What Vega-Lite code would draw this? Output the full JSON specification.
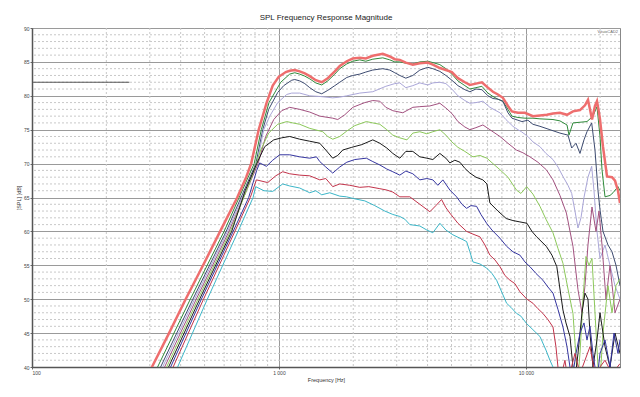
{
  "$schema": "https://vega.github.io/schema/vega-lite/v6.json",
  "width": 588,
  "height": 339,
  "autosize": {"type": "none"},
  "padding": {"left": 32, "top": 28, "right": 20, "bottom": 30},
  "background": "white",
  "title": {"text": "SPL Frequency Response Magnitude", "fontSize": 8, "font": "Liberation Sans", "fontWeight": "normal", "color": "#222", "offset": 4},
  "config": {
    "view": {"stroke": "#888", "strokeWidth": 1},
    "axis": {"labelFontSize": 5, "labelColor": "#444", "labelFont": "Liberation Sans", "titleFont": "Liberation Sans", "titleFontSize": 5.5, "titleFontWeight": "normal", "titleColor": "#333", "domainColor": "#555", "domainWidth": 1.5, "tickColor": "#666", "tickSize": 2, "labelPadding": 1},
    "axisX": {"titlePadding": 2},
    "axisY": {"titlePadding": 2}
  },
  "layer": [
    {
      "data": {"values": [{"d":41},{"d":42},{"d":43},{"d":44},{"d":46},{"d":47},{"d":48},{"d":49},{"d":51},{"d":52},{"d":53},{"d":54},{"d":56},{"d":57},{"d":58},{"d":59},{"d":61},{"d":62},{"d":63},{"d":64},{"d":66},{"d":67},{"d":68},{"d":69},{"d":71},{"d":72},{"d":73},{"d":74},{"d":76},{"d":77},{"d":78},{"d":79},{"d":81},{"d":82},{"d":83},{"d":84},{"d":86},{"d":87},{"d":88},{"d":89}]},
      "mark": {"type": "rule", "color": "#c8c8c8", "strokeDash": [2, 2], "strokeWidth": 1},
      "encoding": {
        "y": {"field": "d", "type": "quantitative", "scale": {"domain": [40, 90], "nice": false, "zero": false}, "axis": {"values": [40,45,50,55,60,65,70,75,80,85,90], "title": "[SPL] [dB]", "grid": true, "gridColor": "#9a9a9a"}}
      }
    },
    {
      "data": {"values": [{"f":200},{"f":300},{"f":400},{"f":500},{"f":600},{"f":700},{"f":800},{"f":900},{"f":2000},{"f":3000},{"f":4000},{"f":5000},{"f":6000},{"f":7000},{"f":8000},{"f":9000},{"f":20000}]},
      "mark": {"type": "rule", "color": "#c8c8c8", "strokeDash": [2, 2], "strokeWidth": 1},
      "encoding": {
        "x": {"field": "f", "type": "quantitative", "scale": {"type": "log", "domain": [100, 24066], "nice": false}, "axis": {"values": [100, 1000, 10000], "title": "Frequency [Hz]", "labelExpr": "replace(format(datum.value, ',.0f'), ',', ' ')", "grid": true, "gridColor": "#9a9a9a"}}
      }
    },
    {
      "data": {"values": [{"f1": 100, "f2": 248, "d": 82}]},
      "mark": {"type": "rule", "color": "#555", "strokeWidth": 1},
      "encoding": {
        "x": {"field": "f1", "type": "quantitative", "scale": {"type": "log", "domain": [100, 24066], "nice": false}, "axis": {"values": [100, 1000, 10000], "title": "Frequency [Hz]", "labelExpr": "replace(format(datum.value, ',.0f'), ',', ' ')", "grid": true, "gridColor": "#9a9a9a"}},
        "x2": {"field": "f2"},
        "y": {"field": "d", "type": "quantitative", "scale": {"domain": [40, 90], "nice": false, "zero": false}, "axis": {"values": [40,45,50,55,60,65,70,75,80,85,90], "title": "[SPL] [dB]", "grid": true, "gridColor": "#9a9a9a"}}
      }
    },
    {
      "data": {"values": [{"f": 24066, "d": 89.4, "t": "VituixCAD2"}]},
      "mark": {"type": "text", "align": "right", "baseline": "middle", "fontSize": 4, "color": "#666", "dx": -2, "font": "Liberation Sans"},
      "encoding": {
        "x": {"field": "f", "type": "quantitative", "scale": {"type": "log", "domain": [100, 24066], "nice": false}, "axis": {"values": [100, 1000, 10000], "title": "Frequency [Hz]", "labelExpr": "replace(format(datum.value, ',.0f'), ',', ' ')", "grid": true, "gridColor": "#9a9a9a"}},
        "y": {"field": "d", "type": "quantitative", "scale": {"domain": [40, 90], "nice": false, "zero": false}, "axis": {"values": [40,45,50,55,60,65,70,75,80,85,90], "title": "[SPL] [dB]", "grid": true, "gridColor": "#9a9a9a"}},
        "text": {"field": "t"}
      }
    },
    {
      "data": {"values": [
{"s":"c2","f":290,"d":36.6},{"s":"c2","f":322.6,"d":40},{"s":"c2","f":437.7,"d":50},{"s":"c2","f":599.7,"d":60},{"s":"c2","f":794.1,"d":70},{"s":"c2","f":848.5,"d":75},{"s":"c2","f":911.7,"d":79},{"s":"c2","f":1017,"d":82},{"s":"c2","f":1106,"d":83.2},{"s":"c2","f":1159,"d":83.4},{"s":"c2","f":1214,"d":83.2},{"s":"c2","f":1273,"d":82.9},{"s":"c2","f":1333,"d":82.5},{"s":"c2","f":1410,"d":81.9},{"s":"c2","f":1491,"d":81.6},{"s":"c2","f":1577,"d":82.2},{"s":"c2","f":1684,"d":83.2},{"s":"c2","f":1764,"d":84.0},{"s":"c2","f":1883,"d":84.7},{"s":"c2","f":1991,"d":85.1},{"s":"c2","f":2126,"d":85.3},{"s":"c2","f":2248,"d":85.1},{"s":"c2","f":2400,"d":85.4},{"s":"c2","f":2634,"d":85.6},{"s":"c2","f":2812,"d":85.3},{"s":"c2","f":2947,"d":85.0},{"s":"c2","f":3088,"d":85.0},{"s":"c2","f":3266,"d":84.8},{"s":"c2","f":3486,"d":84.7},{"s":"c2","f":3722,"d":85.0},{"s":"c2","f":4010,"d":85.1},{"s":"c2","f":4202,"d":84.9},{"s":"c2","f":4486,"d":84.6},{"s":"c2","f":4745,"d":84.0},{"s":"c2","f":5016,"d":83.2},{"s":"c2","f":5308,"d":82.2},{"s":"c2","f":5664,"d":81.5},{"s":"c2","f":5935,"d":81.0},{"s":"c2","f":6279,"d":81.2},{"s":"c2","f":6639,"d":81.4},{"s":"c2","f":7023,"d":80.4},{"s":"c2","f":7358,"d":79.9},{"s":"c2","f":7709,"d":79.5},{"s":"c2","f":8075,"d":79.2},{"s":"c2","f":8463,"d":78.0},{"s":"c2","f":8784,"d":77.0},{"s":"c2","f":9290,"d":76.8},{"s":"c2","f":9915,"d":76.7},{"s":"c2","f":10686,"d":76.7},{"s":"c2","f":11408,"d":76.6},{"s":"c2","f":12881,"d":76.5},{"s":"c2","f":13748,"d":76.3},{"s":"c2","f":14679,"d":75.7},{"s":"c2","f":14955,"d":74.2},{"s":"c2","f":15523,"d":76.0},{"s":"c2","f":16571,"d":76.1},{"s":"c2","f":17690,"d":76.2},{"s":"c2","f":18707,"d":77.0},{"s":"c2","f":19419,"d":78.4},{"s":"c2","f":19972,"d":74.0},{"s":"c2","f":20350,"d":69.1},{"s":"c2","f":20927,"d":65.1},{"s":"c2","f":21924,"d":65.3},{"s":"c2","f":22547,"d":65.7},{"s":"c2","f":23619,"d":66.6},{"s":"c2","f":24066,"d":66.0},
{"s":"c3","f":290,"d":35.7},{"s":"c3","f":331.8,"d":40},{"s":"c3","f":448.2,"d":50},{"s":"c3","f":611.5,"d":60},{"s":"c3","f":806.7,"d":70},{"s":"c3","f":860,"d":75},{"s":"c3","f":909,"d":78},{"s":"c3","f":989,"d":80.5},{"s":"c3","f":1046,"d":81.5},{"s":"c3","f":1127,"d":82.3},{"s":"c3","f":1159,"d":82.4},{"s":"c3","f":1214,"d":82.2},{"s":"c3","f":1273,"d":81.8},{"s":"c3","f":1333,"d":81.2},{"s":"c3","f":1410,"d":80.6},{"s":"c3","f":1491,"d":80.3},{"s":"c3","f":1577,"d":80.8},{"s":"c3","f":1684,"d":81.5},{"s":"c3","f":1764,"d":82.0},{"s":"c3","f":1883,"d":82.7},{"s":"c3","f":1991,"d":83.0},{"s":"c3","f":2126,"d":83.2},{"s":"c3","f":2248,"d":83.5},{"s":"c3","f":2400,"d":83.8},{"s":"c3","f":2634,"d":84.0},{"s":"c3","f":2812,"d":83.8},{"s":"c3","f":2947,"d":83.4},{"s":"c3","f":3088,"d":83.0},{"s":"c3","f":3266,"d":82.6},{"s":"c3","f":3486,"d":83.0},{"s":"c3","f":3722,"d":83.8},{"s":"c3","f":4010,"d":84.2},{"s":"c3","f":4202,"d":84.0},{"s":"c3","f":4486,"d":83.6},{"s":"c3","f":4745,"d":83.0},{"s":"c3","f":5016,"d":82.3},{"s":"c3","f":5308,"d":81.5},{"s":"c3","f":5664,"d":80.9},{"s":"c3","f":5935,"d":80.6},{"s":"c3","f":6279,"d":81.0},{"s":"c3","f":6639,"d":80.9},{"s":"c3","f":7023,"d":80.0},{"s":"c3","f":7358,"d":79.6},{"s":"c3","f":7709,"d":79.5},{"s":"c3","f":8075,"d":79.2},{"s":"c3","f":8463,"d":77.5},{"s":"c3","f":8784,"d":76.7},{"s":"c3","f":9290,"d":76.4},{"s":"c3","f":9643,"d":76.2},{"s":"c3","f":10197,"d":76.4},{"s":"c3","f":10686,"d":75.8},{"s":"c3","f":11408,"d":75.5},{"s":"c3","f":12519,"d":75.0},{"s":"c3","f":13748,"d":74.5},{"s":"c3","f":14817,"d":74.2},{"s":"c3","f":15336,"d":72.3},{"s":"c3","f":15965,"d":73.0},{"s":"c3","f":16571,"d":71.5},{"s":"c3","f":17200,"d":73.5},{"s":"c3","f":17690,"d":74.7},{"s":"c3","f":18480,"d":76.0},{"s":"c3","f":19059,"d":72.0},{"s":"c3","f":19603,"d":66.0},{"s":"c3","f":19972,"d":63.2},{"s":"c3","f":20537,"d":60.0},{"s":"c3","f":21518,"d":58.0},{"s":"c3","f":22338,"d":57.0},{"s":"c3","f":23182,"d":55.0},{"s":"c3","f":24066,"d":52.0},
{"s":"c4","f":290,"d":35.1},{"s":"c4","f":338.1,"d":40},{"s":"c4","f":455.3,"d":50},{"s":"c4","f":619.5,"d":60},{"s":"c4","f":814.9,"d":70},{"s":"c4","f":868,"d":75},{"s":"c4","f":918,"d":77},{"s":"c4","f":989,"d":79},{"s":"c4","f":1076,"d":80.2},{"s":"c4","f":1127,"d":80.4},{"s":"c4","f":1214,"d":80.4},{"s":"c4","f":1333,"d":80.0},{"s":"c4","f":1464,"d":79.9},{"s":"c4","f":1652,"d":79.7},{"s":"c4","f":1764,"d":79.8},{"s":"c4","f":1883,"d":80.0},{"s":"c4","f":2126,"d":80.4},{"s":"c4","f":2400,"d":80.6},{"s":"c4","f":2710,"d":81.4},{"s":"c4","f":2947,"d":81.8},{"s":"c4","f":3088,"d":81.9},{"s":"c4","f":3266,"d":81.2},{"s":"c4","f":3486,"d":81.5},{"s":"c4","f":3722,"d":81.9},{"s":"c4","f":4010,"d":81.6},{"s":"c4","f":4202,"d":81.9},{"s":"c4","f":4486,"d":82.0},{"s":"c4","f":4745,"d":81.8},{"s":"c4","f":5016,"d":81.0},{"s":"c4","f":5308,"d":80.0},{"s":"c4","f":5664,"d":79.3},{"s":"c4","f":5935,"d":78.9},{"s":"c4","f":6279,"d":79.0},{"s":"c4","f":6700,"d":79.2},{"s":"c4","f":7153,"d":78.3},{"s":"c4","f":7854,"d":77.5},{"s":"c4","f":8304,"d":76.5},{"s":"c4","f":8866,"d":75.5},{"s":"c4","f":9290,"d":75.0},{"s":"c4","f":9600,"d":74.7},{"s":"c4","f":10197,"d":74.0},{"s":"c4","f":10686,"d":73.2},{"s":"c4","f":11408,"d":72.5},{"s":"c4","f":12064,"d":71.5},{"s":"c4","f":12881,"d":70.6},{"s":"c4","f":13494,"d":69.5},{"s":"c4","f":14139,"d":68.1},{"s":"c4","f":14817,"d":66.8},{"s":"c4","f":15336,"d":65.6},{"s":"c4","f":15815,"d":63.0},{"s":"c4","f":16264,"d":60.5},{"s":"c4","f":16727,"d":62.0},{"s":"c4","f":17200,"d":65.0},{"s":"c4","f":17852,"d":68.0},{"s":"c4","f":18480,"d":69.6},{"s":"c4","f":18884,"d":66.0},{"s":"c4","f":19419,"d":60.0},{"s":"c4","f":19972,"d":56.0},{"s":"c4","f":20927,"d":58.0},{"s":"c4","f":21924,"d":55.0},{"s":"c4","f":22972,"d":52.0},{"s":"c4","f":24066,"d":50.0},
{"s":"c5","f":290,"d":34.5},{"s":"c5","f":344.5,"d":40},{"s":"c5","f":462.6,"d":50},{"s":"c5","f":627.8,"d":60},{"s":"c5","f":823.3,"d":70},{"s":"c5","f":884,"d":74},{"s":"c5","f":953,"d":76.5},{"s":"c5","f":1026,"d":77.8},{"s":"c5","f":1106,"d":78.3},{"s":"c5","f":1214,"d":78.0},{"s":"c5","f":1333,"d":77.6},{"s":"c5","f":1464,"d":77.0},{"s":"c5","f":1652,"d":76.7},{"s":"c5","f":1731,"d":76.5},{"s":"c5","f":1848,"d":77.2},{"s":"c5","f":1991,"d":78.3},{"s":"c5","f":2228,"d":79.0},{"s":"c5","f":2400,"d":79.3},{"s":"c5","f":2563,"d":79.2},{"s":"c5","f":2710,"d":78.3},{"s":"c5","f":2893,"d":77.8},{"s":"c5","f":3176,"d":77.5},{"s":"c5","f":3486,"d":78.3},{"s":"c5","f":3722,"d":78.4},{"s":"c5","f":4086,"d":78.5},{"s":"c5","f":4486,"d":78.9},{"s":"c5","f":4745,"d":78.2},{"s":"c5","f":5016,"d":77.4},{"s":"c5","f":5308,"d":76.2},{"s":"c5","f":5664,"d":75.4},{"s":"c5","f":5935,"d":75.0},{"s":"c5","f":6279,"d":75.3},{"s":"c5","f":6700,"d":75.7},{"s":"c5","f":7153,"d":75.0},{"s":"c5","f":7854,"d":74.0},{"s":"c5","f":8463,"d":73.0},{"s":"c5","f":9160,"d":72.0},{"s":"c5","f":9732,"d":71.6},{"s":"c5","f":10389,"d":71.0},{"s":"c5","f":11196,"d":70.2},{"s":"c5","f":12100,"d":69.1},{"s":"c5","f":12881,"d":67.6},{"s":"c5","f":13748,"d":65.3},{"s":"c5","f":14600,"d":62.7},{"s":"c5","f":15523,"d":57.8},{"s":"c5","f":16264,"d":51.4},{"s":"c5","f":16882,"d":48.0},{"s":"c5","f":17363,"d":52.0},{"s":"c5","f":17852,"d":58.0},{"s":"c5","f":18535,"d":63.6},{"s":"c5","f":19240,"d":60.0},{"s":"c5","f":19784,"d":63.0},{"s":"c5","f":20350,"d":58.0},{"s":"c5","f":21120,"d":50.0},{"s":"c5","f":21924,"d":55.0},{"s":"c5","f":22972,"d":48.0},{"s":"c5","f":24066,"d":50.0},
{"s":"c6","f":290,"d":33.9},{"s":"c6","f":351,"d":40},{"s":"c6","f":470,"d":50},{"s":"c6","f":636,"d":60},{"s":"c6","f":776,"d":68},{"s":"c6","f":844,"d":72},{"s":"c6","f":909,"d":74.5},{"s":"c6","f":989,"d":75.8},{"s":"c6","f":1076,"d":76.2},{"s":"c6","f":1138,"d":76.0},{"s":"c6","f":1214,"d":75.8},{"s":"c6","f":1333,"d":75.2},{"s":"c6","f":1506,"d":74.7},{"s":"c6","f":1577,"d":74.0},{"s":"c6","f":1652,"d":73.6},{"s":"c6","f":1764,"d":74.0},{"s":"c6","f":1883,"d":74.8},{"s":"c6","f":2029,"d":75.6},{"s":"c6","f":2260,"d":76.2},{"s":"c6","f":2400,"d":76.0},{"s":"c6","f":2563,"d":75.8},{"s":"c6","f":2735,"d":75.0},{"s":"c6","f":2893,"d":74.2},{"s":"c6","f":3088,"d":73.8},{"s":"c6","f":3300,"d":73.5},{"s":"c6","f":3486,"d":74.5},{"s":"c6","f":3722,"d":74.7},{"s":"c6","f":3973,"d":74.4},{"s":"c6","f":4202,"d":74.7},{"s":"c6","f":4486,"d":75.0},{"s":"c6","f":4745,"d":74.2},{"s":"c6","f":5016,"d":73.2},{"s":"c6","f":5308,"d":72.4},{"s":"c6","f":5664,"d":71.8},{"s":"c6","f":6107,"d":71.0},{"s":"c6","f":6516,"d":71.2},{"s":"c6","f":6958,"d":70.8},{"s":"c6","f":7358,"d":70.0},{"s":"c6","f":7854,"d":69.1},{"s":"c6","f":8463,"d":68.0},{"s":"c6","f":9160,"d":66.1},{"s":"c6","f":9552,"d":65.6},{"s":"c6","f":10080,"d":66.6},{"s":"c6","f":10686,"d":65.5},{"s":"c6","f":11408,"d":63.7},{"s":"c6","f":12064,"d":61.8},{"s":"c6","f":12881,"d":59.8},{"s":"c6","f":13494,"d":57.5},{"s":"c6","f":14139,"d":55.3},{"s":"c6","f":14817,"d":51.5},{"s":"c6","f":15523,"d":47.9},{"s":"c6","f":16068,"d":40.0},{"s":"c6","f":16264,"d":38.5},{"s":"c6","f":16571,"d":42.0},{"s":"c6","f":17042,"d":50.0},{"s":"c6","f":17524,"d":56.3},{"s":"c6","f":18022,"d":55.0},{"s":"c6","f":18535,"d":56.0},{"s":"c6","f":19059,"d":48.0},{"s":"c6","f":19603,"d":40.0},{"s":"c6","f":19972,"d":38.0},{"s":"c6","f":20537,"d":45.0},{"s":"c6","f":21518,"d":52.0},{"s":"c6","f":22338,"d":48.0},{"s":"c6","f":23182,"d":52.0},{"s":"c6","f":24066,"d":53.0},
{"s":"c7","f":290,"d":33.3},{"s":"c7","f":357.5,"d":40},{"s":"c7","f":477.5,"d":50},{"s":"c7","f":643.8,"d":60},{"s":"c7","f":730,"d":66},{"s":"c7","f":813,"d":70},{"s":"c7","f":876,"d":72.5},{"s":"c7","f":953,"d":73.5},{"s":"c7","f":1026,"d":73.8},{"s":"c7","f":1106,"d":74.0},{"s":"c7","f":1214,"d":73.6},{"s":"c7","f":1333,"d":73.3},{"s":"c7","f":1464,"d":73.0},{"s":"c7","f":1548,"d":72.0},{"s":"c7","f":1652,"d":70.8},{"s":"c7","f":1731,"d":71.2},{"s":"c7","f":1813,"d":72.0},{"s":"c7","f":1973,"d":72.4},{"s":"c7","f":2167,"d":72.8},{"s":"c7","f":2400,"d":73.5},{"s":"c7","f":2563,"d":73.0},{"s":"c7","f":2735,"d":72.3},{"s":"c7","f":2893,"d":71.5},{"s":"c7","f":3088,"d":70.8},{"s":"c7","f":3266,"d":71.8},{"s":"c7","f":3486,"d":71.8},{"s":"c7","f":3722,"d":71.0},{"s":"c7","f":3973,"d":70.8},{"s":"c7","f":4202,"d":70.6},{"s":"c7","f":4486,"d":71.5},{"s":"c7","f":4745,"d":70.8},{"s":"c7","f":4924,"d":70.1},{"s":"c7","f":5159,"d":70.5},{"s":"c7","f":5409,"d":70.2},{"s":"c7","f":5664,"d":69.3},{"s":"c7","f":5935,"d":68.6},{"s":"c7","f":6279,"d":68.0},{"s":"c7","f":6700,"d":67.6},{"s":"c7","f":6958,"d":67.0},{"s":"c7","f":7153,"d":64.2},{"s":"c7","f":7709,"d":63.0},{"s":"c7","f":8330,"d":61.9},{"s":"c7","f":8866,"d":61.6},{"s":"c7","f":9465,"d":61.4},{"s":"c7","f":10104,"d":61.2},{"s":"c7","f":10587,"d":60.0},{"s":"c7","f":11060,"d":59.2},{"s":"c7","f":12100,"d":57.8},{"s":"c7","f":12755,"d":56.5},{"s":"c7","f":13350,"d":54.8},{"s":"c7","f":13748,"d":51.5},{"s":"c7","f":14139,"d":48.4},{"s":"c7","f":14543,"d":46.5},{"s":"c7","f":15095,"d":44.5},{"s":"c7","f":15523,"d":40.0},{"s":"c7","f":15815,"d":38.0},{"s":"c7","f":16264,"d":42.0},{"s":"c7","f":16882,"d":48.0},{"s":"c7","f":17363,"d":50.9},{"s":"c7","f":17852,"d":50.0},{"s":"c7","f":18188,"d":45.0},{"s":"c7","f":18707,"d":40.0},{"s":"c7","f":19419,"d":44.0},{"s":"c7","f":19972,"d":48.0},{"s":"c7","f":20927,"d":43.0},{"s":"c7","f":21924,"d":40.0},{"s":"c7","f":22972,"d":45.0},{"s":"c7","f":24066,"d":42.0},
{"s":"c8","f":290,"d":32.7},{"s":"c8","f":364.3,"d":40},{"s":"c8","f":485.2,"d":50},{"s":"c8","f":652.8,"d":60},{"s":"c8","f":754.3,"d":65},{"s":"c8","f":813,"d":69},{"s":"c8","f":836,"d":70.1},{"s":"c8","f":890,"d":69.6},{"s":"c8","f":944,"d":70.5},{"s":"c8","f":1007,"d":71.3},{"s":"c8","f":1106,"d":71.3},{"s":"c8","f":1214,"d":71.0},{"s":"c8","f":1333,"d":70.8},{"s":"c8","f":1419,"d":71.0},{"s":"c8","f":1464,"d":70.3},{"s":"c8","f":1548,"d":69.5},{"s":"c8","f":1652,"d":68.6},{"s":"c8","f":1764,"d":69.5},{"s":"c8","f":1883,"d":70.2},{"s":"c8","f":2029,"d":70.6},{"s":"c8","f":2260,"d":70.8},{"s":"c8","f":2400,"d":70.3},{"s":"c8","f":2563,"d":69.8},{"s":"c8","f":2735,"d":69.2},{"s":"c8","f":2893,"d":68.8},{"s":"c8","f":3088,"d":68.3},{"s":"c8","f":3266,"d":68.9},{"s":"c8","f":3486,"d":68.5},{"s":"c8","f":3722,"d":67.6},{"s":"c8","f":3973,"d":67.8},{"s":"c8","f":4202,"d":67.6},{"s":"c8","f":4402,"d":66.8},{"s":"c8","f":4614,"d":67.6},{"s":"c8","f":4924,"d":66.1},{"s":"c8","f":5242,"d":65.1},{"s":"c8","f":5511,"d":64.0},{"s":"c8","f":5756,"d":63.4},{"s":"c8","f":5994,"d":63.8},{"s":"c8","f":6318,"d":63.7},{"s":"c8","f":6578,"d":62.5},{"s":"c8","f":6936,"d":61.2},{"s":"c8","f":7289,"d":60.2},{"s":"c8","f":7854,"d":59.0},{"s":"c8","f":8360,"d":57.8},{"s":"c8","f":8866,"d":57.0},{"s":"c8","f":9465,"d":56.5},{"s":"c8","f":9915,"d":55.5},{"s":"c8","f":10389,"d":54.8},{"s":"c8","f":10990,"d":53.8},{"s":"c8","f":11728,"d":52.8},{"s":"c8","f":12288,"d":51.8},{"s":"c8","f":12881,"d":50.9},{"s":"c8","f":13494,"d":48.5},{"s":"c8","f":14139,"d":45.9},{"s":"c8","f":14679,"d":43.0},{"s":"c8","f":15095,"d":40.0},{"s":"c8","f":15381,"d":38.0},{"s":"c8","f":15965,"d":42.0},{"s":"c8","f":16571,"d":45.0},{"s":"c8","f":17200,"d":46.5},{"s":"c8","f":17690,"d":44.0},{"s":"c8","f":18188,"d":46.0},{"s":"c8","f":18707,"d":42.0},{"s":"c8","f":19419,"d":38.0},{"s":"c8","f":19972,"d":42.0},{"s":"c8","f":20927,"d":44.0},{"s":"c8","f":21924,"d":40.0},{"s":"c8","f":22756,"d":45.0},{"s":"c8","f":23619,"d":42.0},{"s":"c8","f":24066,"d":44.0},
{"s":"c9","f":290,"d":31.9},{"s":"c9","f":372.9,"d":40},{"s":"c9","f":495.1,"d":50},{"s":"c9","f":663.2,"d":60},{"s":"c9","f":765.7,"d":65},{"s":"c9","f":810.7,"d":67.6},{"s":"c9","f":901,"d":67.2},{"s":"c9","f":971,"d":68.2},{"s":"c9","f":1036,"d":68.8},{"s":"c9","f":1106,"d":68.5},{"s":"c9","f":1214,"d":68.3},{"s":"c9","f":1333,"d":68.2},{"s":"c9","f":1464,"d":67.6},{"s":"c9","f":1548,"d":67.8},{"s":"c9","f":1652,"d":66.6},{"s":"c9","f":1764,"d":67.0},{"s":"c9","f":1937,"d":66.8},{"s":"c9","f":2126,"d":66.5},{"s":"c9","f":2312,"d":66.6},{"s":"c9","f":2563,"d":66.3},{"s":"c9","f":2735,"d":66.1},{"s":"c9","f":2893,"d":65.8},{"s":"c9","f":3088,"d":65.1},{"s":"c9","f":3390,"d":65.1},{"s":"c9","f":3722,"d":64.0},{"s":"c9","f":4086,"d":62.9},{"s":"c9","f":4321,"d":63.8},{"s":"c9","f":4558,"d":64.7},{"s":"c9","f":4745,"d":63.5},{"s":"c9","f":4924,"d":62.7},{"s":"c9","f":5308,"d":61.2},{"s":"c9","f":5756,"d":60.0},{"s":"c9","f":6107,"d":59.6},{"s":"c9","f":6516,"d":59.2},{"s":"c9","f":6829,"d":58.0},{"s":"c9","f":7153,"d":56.5},{"s":"c9","f":7496,"d":55.8},{"s":"c9","f":7854,"d":54.8},{"s":"c9","f":8227,"d":53.5},{"s":"c9","f":8622,"d":52.8},{"s":"c9","f":9033,"d":52.3},{"s":"c9","f":9465,"d":51.1},{"s":"c9","f":10104,"d":50.0},{"s":"c9","f":10686,"d":49.4},{"s":"c9","f":11196,"d":48.6},{"s":"c9","f":11728,"d":47.9},{"s":"c9","f":12288,"d":47.0},{"s":"c9","f":12881,"d":45.9},{"s":"c9","f":13243,"d":43.0},{"s":"c9","f":13494,"d":40.0},{"s":"c9","f":13748,"d":38.0},{"s":"c9","f":14402,"d":41.0},{"s":"c9","f":14817,"d":38.0},{"s":"c9","f":15815,"d":42.0},{"s":"c9","f":16571,"d":39.0},{"s":"c9","f":18188,"d":43.0},{"s":"c9","f":19059,"d":39.0},{"s":"c9","f":20927,"d":41.0},{"s":"c9","f":22338,"d":39.0},{"s":"c9","f":24066,"d":40.5},
{"s":"c10","f":290,"d":30.6},{"s":"c10","f":388.9,"d":40},{"s":"c10","f":513,"d":50},{"s":"c10","f":683.3,"d":60},{"s":"c10","f":786,"d":65},{"s":"c10","f":805,"d":66.6},{"s":"c10","f":870,"d":66.0},{"s":"c10","f":944,"d":65.9},{"s":"c10","f":1036,"d":67.0},{"s":"c10","f":1106,"d":66.7},{"s":"c10","f":1214,"d":66.4},{"s":"c10","f":1333,"d":65.7},{"s":"c10","f":1410,"d":66.0},{"s":"c10","f":1491,"d":65.4},{"s":"c10","f":1607,"d":65.7},{"s":"c10","f":1764,"d":65.2},{"s":"c10","f":1877,"d":65.1},{"s":"c10","f":2029,"d":64.8},{"s":"c10","f":2228,"d":64.5},{"s":"c10","f":2445,"d":63.8},{"s":"c10","f":2685,"d":63.0},{"s":"c10","f":2893,"d":62.5},{"s":"c10","f":3088,"d":62.2},{"s":"c10","f":3236,"d":61.8},{"s":"c10","f":3390,"d":61.0},{"s":"c10","f":3722,"d":60.8},{"s":"c10","f":3973,"d":60.2},{"s":"c10","f":4202,"d":59.8},{"s":"c10","f":4486,"d":61.2},{"s":"c10","f":4745,"d":60.2},{"s":"c10","f":5064,"d":59.5},{"s":"c10","f":5409,"d":59.0},{"s":"c10","f":5756,"d":58.5},{"s":"c10","f":5935,"d":57.0},{"s":"c10","f":6107,"d":55.5},{"s":"c10","f":6516,"d":55.2},{"s":"c10","f":6936,"d":54.6},{"s":"c10","f":7289,"d":53.8},{"s":"c10","f":7614,"d":52.8},{"s":"c10","f":8000,"d":51.0},{"s":"c10","f":8360,"d":49.4},{"s":"c10","f":8702,"d":48.8},{"s":"c10","f":9177,"d":47.9},{"s":"c10","f":9552,"d":47.5},{"s":"c10","f":10074,"d":46.4},{"s":"c10","f":10686,"d":45.5},{"s":"c10","f":11408,"d":44.5},{"s":"c10","f":12064,"d":42.5},{"s":"c10","f":12519,"d":41.0},{"s":"c10","f":12881,"d":40.0},{"s":"c10","f":13243,"d":37.0}
      ]},
      "mark": {"type": "line", "clip": true, "strokeWidth": 1},
      "encoding": {
        "x": {"field": "f", "type": "quantitative", "scale": {"type": "log", "domain": [100, 24066], "nice": false}, "axis": {"values": [100, 1000, 10000], "title": "Frequency [Hz]", "labelExpr": "replace(format(datum.value, ',.0f'), ',', ' ')", "grid": true, "gridColor": "#9a9a9a"}},
        "y": {"field": "d", "type": "quantitative", "scale": {"domain": [40, 90], "nice": false, "zero": false}, "axis": {"values": [40,45,50,55,60,65,70,75,80,85,90], "title": "[SPL] [dB]", "grid": true, "gridColor": "#9a9a9a"}},
        "color": {"field": "s", "type": "nominal", "legend": null, "scale": {"domain": ["c2","c3","c4","c5","c6","c7","c8","c9","c10"], "range": ["#2f8a3a","#3d4b70","#aaa6d8","#a2517f","#8cc85a","#1a1a1a","#3535a0","#c2334a","#3cb6c8"]}}
      }
    },
    {
      "data": {"values": [
{"f":290,"d":38.2},{"f":306,"d":40},{"f":359,"d":45},{"f":419,"d":50},{"f":493,"d":55},{"f":578,"d":60},{"f":678,"d":65},{"f":737,"d":68},{"f":772,"d":70},{"f":794,"d":72},{"f":828,"d":75},{"f":892,"d":79},{"f":944,"d":81.5},{"f":998,"d":82.8},{"f":1066,"d":83.5},{"f":1106,"d":83.7},{"f":1159,"d":83.8},{"f":1214,"d":83.6},{"f":1273,"d":83.3},{"f":1333,"d":82.9},{"f":1410,"d":82.3},{"f":1491,"d":82.0},{"f":1577,"d":82.6},{"f":1684,"d":83.6},{"f":1764,"d":84.4},{"f":1883,"d":85.1},{"f":1991,"d":85.5},{"f":2126,"d":85.6},{"f":2248,"d":85.5},{"f":2400,"d":85.9},{"f":2634,"d":86.2},{"f":2812,"d":85.8},{"f":2947,"d":85.4},{"f":3088,"d":85.3},{"f":3266,"d":84.9},{"f":3486,"d":84.6},{"f":3722,"d":84.8},{"f":4010,"d":84.9},{"f":4202,"d":84.6},{"f":4486,"d":84.1},{"f":4745,"d":83.8},{"f":5016,"d":83.5},{"f":5308,"d":82.6},{"f":5664,"d":82.0},{"f":5935,"d":81.6},{"f":6279,"d":81.8},{"f":6639,"d":82.0},{"f":7023,"d":81.2},{"f":7358,"d":80.6},{"f":7709,"d":80.2},{"f":8075,"d":79.7},{"f":8463,"d":78.5},{"f":8784,"d":77.7},{"f":9290,"d":77.5},{"f":9915,"d":77.5},{"f":10686,"d":77.0},{"f":11408,"d":77.1},{"f":12175,"d":77.2},{"f":12881,"d":77.4},{"f":13748,"d":77.5},{"f":14679,"d":77.2},{"f":15523,"d":77.7},{"f":16571,"d":77.9},{"f":17363,"d":78.6},{"f":17852,"d":79.4},{"f":18188,"d":78.0},{"f":18535,"d":76.5},{"f":19059,"d":78.5},{"f":19419,"d":79.2},{"f":19784,"d":77.5},{"f":19972,"d":76.5},{"f":20537,"d":72.5},{"f":21321,"d":68.1},{"f":22338,"d":68.0},{"f":22972,"d":67.5},{"f":23619,"d":66.0},{"f":24066,"d":64.2}
      ]},
      "mark": {"type": "line", "clip": true, "strokeWidth": 2.5, "color": "#ee6e6e"},
      "encoding": {
        "x": {"field": "f", "type": "quantitative", "scale": {"type": "log", "domain": [100, 24066], "nice": false}, "axis": {"values": [100, 1000, 10000], "title": "Frequency [Hz]", "labelExpr": "replace(format(datum.value, ',.0f'), ',', ' ')", "grid": true, "gridColor": "#9a9a9a"}},
        "y": {"field": "d", "type": "quantitative", "scale": {"domain": [40, 90], "nice": false, "zero": false}, "axis": {"values": [40,45,50,55,60,65,70,75,80,85,90], "title": "[SPL] [dB]", "grid": true, "gridColor": "#9a9a9a"}}
      }
    }
  ]
}
